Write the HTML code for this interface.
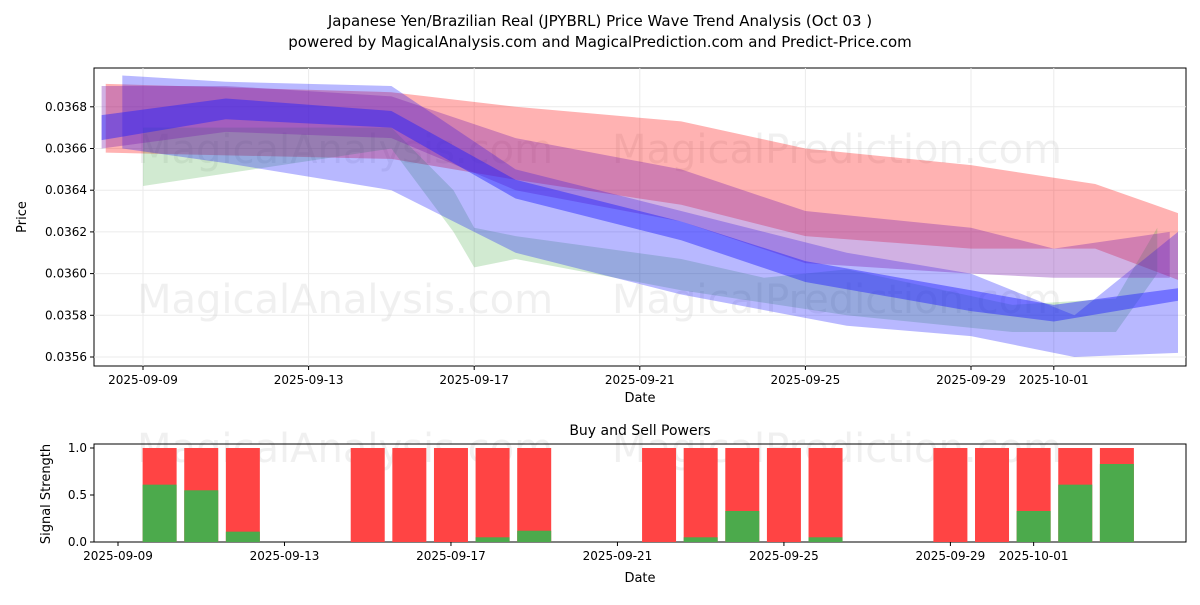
<!DOCTYPE html>
<html><head><meta charset="utf-8"><style>
body{margin:0;background:#fff;font-family:"Liberation Sans","DejaVu Sans",sans-serif}
svg text{font-family:"DejaVu Sans","Liberation Sans",sans-serif}
</style></head><body>
<svg id="c" width="1200" height="600" xmlns="http://www.w3.org/2000/svg">
<text x="600" y="26" text-anchor="middle" font-size="15">Japanese Yen/Brazilian Real (JPYBRL) Price Wave Trend Analysis (Oct 03 )</text>
<text x="600" y="47" text-anchor="middle" font-size="15">powered by MagicalAnalysis.com and MagicalPrediction.com and Predict-Price.com</text>
<g id="top"></g>
<g id="bot"></g>
</svg>
<script>
// price bands: day offsets from 2025-09-09
const redDays=[-0.9,6,9,13,16,20,23,25];
const redUpper=[.03691,.03687,.03680,.03673,.03660,.03652,.03643,.03629];
const redLower=[.03658,.03655,.03645,.03633,.03618,.03612,.03612,.03597];
const purpleDays=[-1,2,6,9,13,16,20,22,24.8];
const purpleUpper=[.03690,.03690,.03685,.03665,.03650,.03630,.03622,.03612,.03620];
const purpleLower=[.03660,.03668,.03665,.03640,.03625,.03605,.03600,.03598,.03598];
const blueWideDays=[-0.5,2,6,9,13,17,20,22.5,25];
const blueWideUpper=[.03695,.03692,.03690,.03650,.03630,.03610,.03600,.03580,.03620];
const blueWideLower=[.03660,.03653,.03640,.03610,.03590,.03575,.03570,.03560,.03562];
const blueDays=[-1,2,6,9,13,16,20,22,25];
const blueUpper=[.03676,.03684,.03678,.03645,.03625,.03606,.03592,.03585,.03593];
const blueLower=[.03664,.03674,.03670,.03636,.03616,.03596,.03582,.03577,.03587];
const greenDays=[0,6,7.5,8,9,13,15,17,21,23.5,24.5];
const greenUpper=[.03670,.03670,.03640,.03622,.03618,.03607,.03598,.03602,.03585,.03588,.03622];
const greenLower=[.03642,.03660,.03620,.03603,.03607,.03592,.03586,.03580,.03572,.03572,.03600];
const priceTicks=[.0356,.0358,.0360,.0362,.0364,.0366,.0368];
const dateTicks=["2025-09-09","2025-09-13","2025-09-17","2025-09-21","2025-09-25","2025-09-29","2025-10-01"];
const dateTickDays=[0,4,8,12,16,20,22];
// buy/sell powers
const barDays=[1,2,3,6,7,8,9,10,13,14,15,16,17,20,21,22,23,24];
const buyPower=[.61,.55,.11,0,0,0,.05,.12,0,.05,.33,0,.05,0,0,.33,.61,.83];
const powerTicks=[0,0.5,1];

const NS="http://www.w3.org/2000/svg";
function el(t,a,p){const e=document.createElementNS(NS,t);for(const k in a)e.setAttribute(k,a[k]);p.appendChild(e);return e;}
const T=document.getElementById('top'),B=document.getElementById('bot');
const L=94,R=1186,tT=68,tB=366,bT=444,bB=542;
const xT=d=>143+d*41.4, yT=v=>357-(v-.0356)/.0002*41.7;
const xB=d=>118+d*41.62, yB=v=>542-v*94;
el('rect',{x:L,y:tT,width:R-L,height:tB-tT,fill:'none',stroke:'#000','stroke-width':1},T);
priceTicks.forEach(v=>{const y=yT(v);
const g=el('line',{x1:L,x2:R,y1:y,y2:y,stroke:'#ebebeb'},T);
el('line',{x1:L-4,x2:L,y1:y,y2:y,stroke:'#000'},T);
const t=el('text',{x:L-7,y:y+4,'text-anchor':'end','font-size':12},T);t.textContent=v.toFixed(4);});
dateTickDays.forEach((d,i)=>{const x=xT(d);
const g=el('line',{x1:x,x2:x,y1:tT,y2:tB,stroke:'#ebebeb'},T);
el('line',{x1:x,x2:x,y1:tB,y2:tB+4,stroke:'#000'},T);
const t=el('text',{x:x,y:tB+18,'text-anchor':'middle','font-size':12},T);t.textContent=dateTicks[i];});
[[345,163],[837,163],[345,313],[837,313]].forEach((p,i)=>{const t=el('text',{x:p[0],y:p[1],'text-anchor':'middle','font-size':40,fill:'#ccc','fill-opacity':0.3},T);t.textContent=i%2?'MagicalPrediction.com':'MagicalAnalysis.com';});
[[345,462],[837,462]].forEach((p,i)=>{const t=el('text',{x:p[0],y:p[1],'text-anchor':'middle','font-size':40,fill:'#ccc','fill-opacity':0.3},B);t.textContent=i?'MagicalPrediction.com':'MagicalAnalysis.com';});
function band(days,up,lo,fill,op,name){
 let pts=days.map((d,i)=>xT(d)+','+yT(up[i]));
 for(let i=days.length-1;i>=0;i--)pts.push(xT(days[i])+','+yT(lo[i]));
 const p=el('polygon',{points:pts.join(' '),fill:fill,'fill-opacity':op},T);}
band(redDays,redUpper,redLower,'#ff0000',0.3,'red-band');
band(greenDays,greenUpper,greenLower,'#2ca02c',0.22,'green-band');
band(blueWideDays,blueWideUpper,blueWideLower,'#0000ff',0.28,'blue-wide-band');
band(purpleDays,purpleUpper,purpleLower,'#7a1fb0',0.35,'purple-band');
band(blueDays,blueUpper,blueLower,'#2020ff',0.45,'blue-band');
let t=el('text',{x:640,y:402,'text-anchor':'middle','font-size':13},T);t.textContent='Date';
t=el('text',{x:0,y:0,'text-anchor':'middle','font-size':13,transform:'translate(26,217) rotate(-90)'},T);t.textContent='Price';
el('rect',{x:L,y:bT,width:R-L,height:bB-bT,fill:'none',stroke:'#000'},B);
barDays.forEach((d,i)=>{const x=xB(d)-17;
const r=el('rect',{x:x,y:yB(1),width:34,height:yB(0)-yB(1),fill:'#ff4444'},B);
const g=el('rect',{x:x,y:yB(buyPower[i]),width:34,height:yB(0)-yB(buyPower[i]),fill:'#4caa4c'},B);});
powerTicks.forEach(v=>{const y=yB(v);el('line',{x1:L-4,x2:L,y1:y,y2:y,stroke:'#000'},B);
const t=el('text',{x:L-7,y:y+4,'text-anchor':'end','font-size':12},B);t.textContent=v.toFixed(1);});
dateTickDays.forEach((d,i)=>{const x=xB(d);el('line',{x1:x,x2:x,y1:bB,y2:bB+4,stroke:'#000'},B);
const t=el('text',{x:x,y:bB+18,'text-anchor':'middle','font-size':12},B);t.textContent=dateTicks[i];});
t=el('text',{x:640,y:435,'text-anchor':'middle','font-size':14},B);t.textContent='Buy and Sell Powers';
t=el('text',{x:640,y:582,'text-anchor':'middle','font-size':13},B);t.textContent='Date';
t=el('text',{x:0,y:0,'text-anchor':'middle','font-size':13,transform:'translate(50,494) rotate(-90)'},B);t.textContent='Signal Strength';
</script>
</body></html>
